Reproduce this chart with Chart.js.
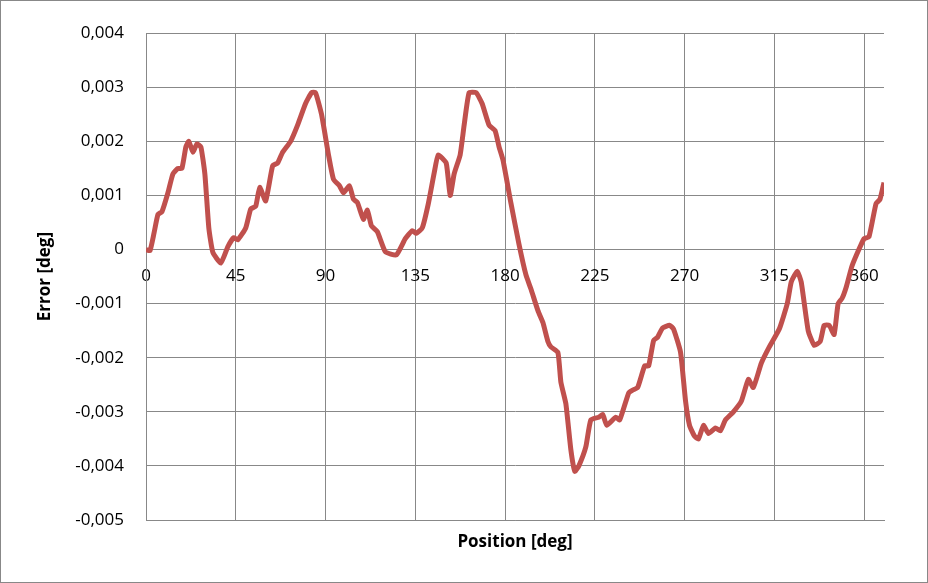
<!DOCTYPE html>
<html><head><meta charset="utf-8">
<script src="https://cdn.jsdelivr.net/npm/chart.js@4/dist/chart.umd.min.js"></script>
<style>html,body{margin:0;padding:0;background:#fff}#w{position:relative;width:926px;height:581px;border:1px solid #888}</style>
</head><body><div id="w"><canvas id="c"></canvas></div>
<script>
const positions=[0,2,4,6,8,11,13.5,16,18,20,21.5,23.5,25.5,27.5,29.5,31.5,33.5,37.5,41,44,46,50,52.5,55,57,60,63.5,66,68.5,72.5,76,80,83,85,88,91.5,94,97,99,102,104,106,109,111,113,116,120,125.5,130,133.5,135.5,138.5,141.5,144.5,146.5,150.5,152.5,154.5,157.5,159.5,162,165.5,168.5,172,175,177,179,183,187,190.5,193,196.5,199,201.5,203,206.5,208,210.5,213,215,217,220.5,223,227,229,231,235.5,237.5,242,244,246.5,250,252,254.5,256.5,259,262.5,264.5,268,270.5,272.5,275,277,279.5,282,285.5,288,290.5,294.5,298.5,302,304.5,308.5,312.5,317.5,321.5,323.5,326.5,328.5,332,335,338,340,342.5,345,347,349,351,354,358,360,362.5,366,368,370];
const errors=[0,-0.00002,0.0003,0.00065,0.0007,0.00105,0.0014,0.0015,0.0015,0.0019,0.002,0.0018,0.00195,0.0019,0.0014,0.0004,-0.00005,-0.00025,0.00005,0.00022,0.00018,0.0004,0.00075,0.0008,0.00115,0.0009,0.00155,0.0016,0.0018,0.002,0.0023,0.0027,0.0029,0.0029,0.0025,0.00175,0.0013,0.00118,0.00105,0.00118,0.00093,0.00087,0.00056,0.00073,0.00044,0.00033,-0.00004,-0.0001,0.0002,0.00035,0.0003,0.0004,0.00084,0.00142,0.00175,0.0016,0.001,0.0014,0.00175,0.0023,0.0029,0.0029,0.0027,0.0023,0.0022,0.0019,0.00165,0.00085,0.0001,-0.00047,-0.00073,-0.00113,-0.00135,-0.0017,-0.0018,-0.0019,-0.00245,-0.00285,-0.0037,-0.0041,-0.004,-0.00365,-0.00315,-0.0031,-0.00305,-0.00325,-0.0031,-0.00315,-0.00265,-0.0026,-0.00255,-0.00215,-0.00215,-0.00168,-0.00162,-0.00145,-0.0014,-0.00147,-0.0019,-0.0028,-0.00325,-0.00345,-0.0035,-0.00325,-0.0034,-0.0033,-0.00335,-0.00315,-0.003,-0.0028,-0.0024,-0.00255,-0.0021,-0.0018,-0.00147,-0.001,-0.0006,-0.0004,-0.0006,-0.0015,-0.00177,-0.0017,-0.0014,-0.0014,-0.00157,-0.001,-0.0009,-0.0007,-0.0003,0.00005,0.0002,0.00024,0.00085,0.00093,0.00124];
const xTicks=[0,45,90,135,180,225,270,315,360];
const F='"Open Sans", "Liberation Sans", sans-serif';
Chart.defaults.font.family=F;Chart.defaults.color='#000';
new Chart(document.getElementById('c'),{type:'line',
data:{datasets:[{data:positions.map((p,i)=>({x:p,y:errors[i]})),borderColor:'#c0504d',borderWidth:5,pointRadius:0,tension:0.15,fill:false}]},
options:{responsive:true,maintainAspectRatio:false,animation:false,
layout:{padding:{top:26,right:43,left:34,bottom:0}},
plugins:{legend:{display:false},tooltip:{enabled:false}},
scales:{
 x:{type:'linear',min:0,max:370,position:'bottom',
  afterBuildTicks:s=>{s.ticks=xTicks.map(v=>({value:v}));},
  ticks:{display:false},grid:{color:'#888',lineWidth:1,drawTicks:false},border:{color:'#888'},
  title:{display:true,text:'Position [deg]',font:{size:17,weight:'bold'},padding:{top:2,bottom:30}},
  afterFit:s=>{s.height=62;}},
 x2:{type:'linear',min:0,max:370,position:{y:0},
  afterBuildTicks:s=>{s.ticks=xTicks.map(v=>({value:v}));},
  ticks:{font:{size:17},maxRotation:0,padding:8},grid:{display:false},border:{display:false}},
 y:{min:-0.005,max:0.004,
  afterBuildTicks:s=>{const t=[];for(let v=-5;v<=4;v++)t.push({value:v/1000});s.ticks=t;},
  ticks:{font:{size:17},padding:22,callback:v=>Math.abs(v)<1e-9?'0':v.toFixed(3).replace('.',',')},
  grid:{color:'#888',lineWidth:1,drawTicks:false},border:{color:'#888'},
  title:{display:true,text:'Error [deg]',font:{size:17,weight:'bold'},padding:0},
  afterFit:s=>{s.width=111;}}
}}});
</script></body></html>
